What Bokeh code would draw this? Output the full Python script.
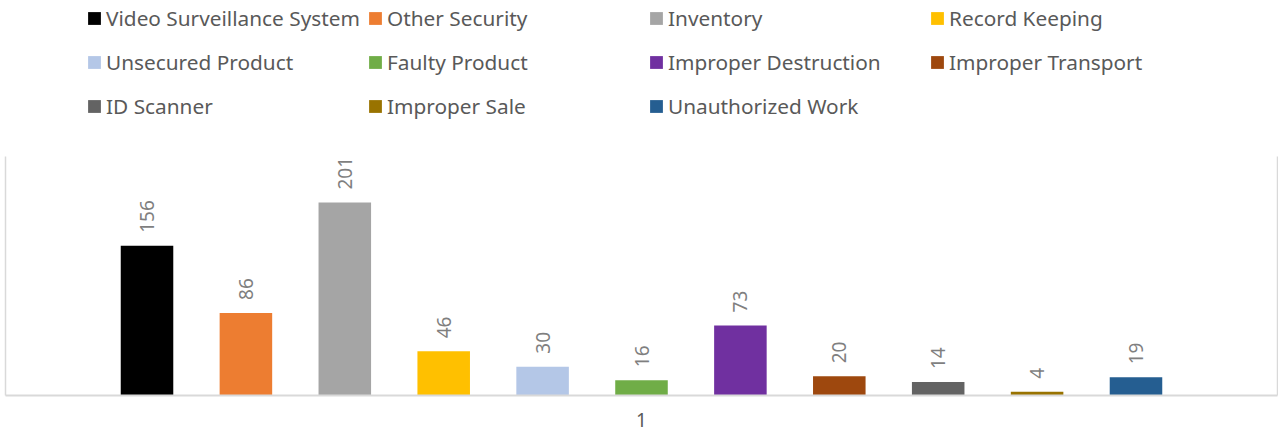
import math
from bokeh.plotting import figure
from bokeh.models import ColumnDataSource, FactorRange, Range1d, Legend, LegendItem, LinearAxis, FixedTicker
from bokeh.transform import dodge
from bokeh.core.properties import value
from bokeh.embed import file_html
from bokeh.resources import INLINE

category = ["1"]
series_names = [
    "Video Surveillance System", "Other Security", "Inventory", "Record Keeping",
    "Unsecured Product", "Faulty Product", "Improper Destruction", "Improper Transport",
    "ID Scanner", "Improper Sale", "Unauthorized Work",
]
series_values = [156, 86, 201, 46, 30, 16, 73, 20, 14, 4, 19]
series_colors = [
    "#000000", "#ED7D31", "#A5A5A5", "#FFC000",
    "#B4C7E7", "#70AD47", "#7030A0", "#9E480E",
    "#636363", "#997300", "#255E91",
]
axis_top = 249

FONT = value("Noto Sans")
GRID = "#d9d9d9"

W, H = 1278, 432
frame_bottom = 395       # px from top
plot_area_top = 156      # px from top
y_end = axis_top * frame_bottom / (frame_bottom - plot_area_top)

p = figure(
    width=W, height=H,
    x_range=FactorRange(factors=category, range_padding=0),
    y_range=Range1d(0, y_end),
    y_axis_location="left",
    output_backend="svg", toolbar_location=None,
    min_border_top=0, min_border_bottom=H - frame_bottom,
    min_border_left=5, min_border_right=1,
)
p.outline_line_color = None
p.grid.visible = False
p.background_fill_color = "white"
p.border_fill_color = "white"

ax = p.xaxis[0]
ax.major_tick_line_color = None
ax.minor_tick_line_color = None
ax.axis_line_color = GRID
ax.axis_line_width = 2
ax.major_label_text_font = "Noto Sans"
ax.major_label_text_font_size = "19px"
ax.major_label_text_color = "#595959"
ax.major_label_standoff = 11

right_axis = LinearAxis()
p.add_layout(right_axis, "right")
for yax in (p.yaxis[0], right_axis):
    yax.ticker = FixedTicker(ticks=[])
    yax.bounds = (0, axis_top)
    yax.axis_line_color = GRID
    yax.axis_line_width = 1.5
    yax.major_tick_line_color = None
    yax.minor_tick_line_color = None
    yax.major_label_text_font_size = "0px"
    yax.major_label_standoff = 0
    yax.major_tick_out = 0
    yax.major_tick_in = 0

n = len(series_values)
pitch = 0.07775
bar_w = 0.0413
items = []
for i, (name, val, col) in enumerate(zip(series_names, series_values, series_colors)):
    off = (i - (n - 1) / 2) * pitch
    src = ColumnDataSource(dict(cat=category, v=[val], lbl=[str(val)]))
    r = p.vbar(x=dodge("cat", off, range=p.x_range), top="v", bottom=0, width=bar_w,
               fill_color=col, line_color=None, source=src)
    p.text(x=dodge("cat", off, range=p.x_range), y="v", text="lbl", angle=math.pi / 2,
           text_align="left", text_baseline="middle", y_offset=-13,
           text_font=FONT, text_font_size="19px", text_color="#7f7f7f", source=src)
    items.append(LegendItem(label=name, renderers=[r]))

legend = Legend(
    items=items, location=(81, 267), orientation="horizontal", ncols=4,
    glyph_width=16, glyph_height=16, label_standoff=4,
    label_width=261, label_height=44, spacing=0, padding=0, margin=0,
    border_line_color=None, background_fill_alpha=0,
    label_text_font="Noto Sans", label_text_font_size="20.8px", label_text_color="#595959",
)
p.add_layout(legend)

open("out.html", "w").write(file_html(p, INLINE))
